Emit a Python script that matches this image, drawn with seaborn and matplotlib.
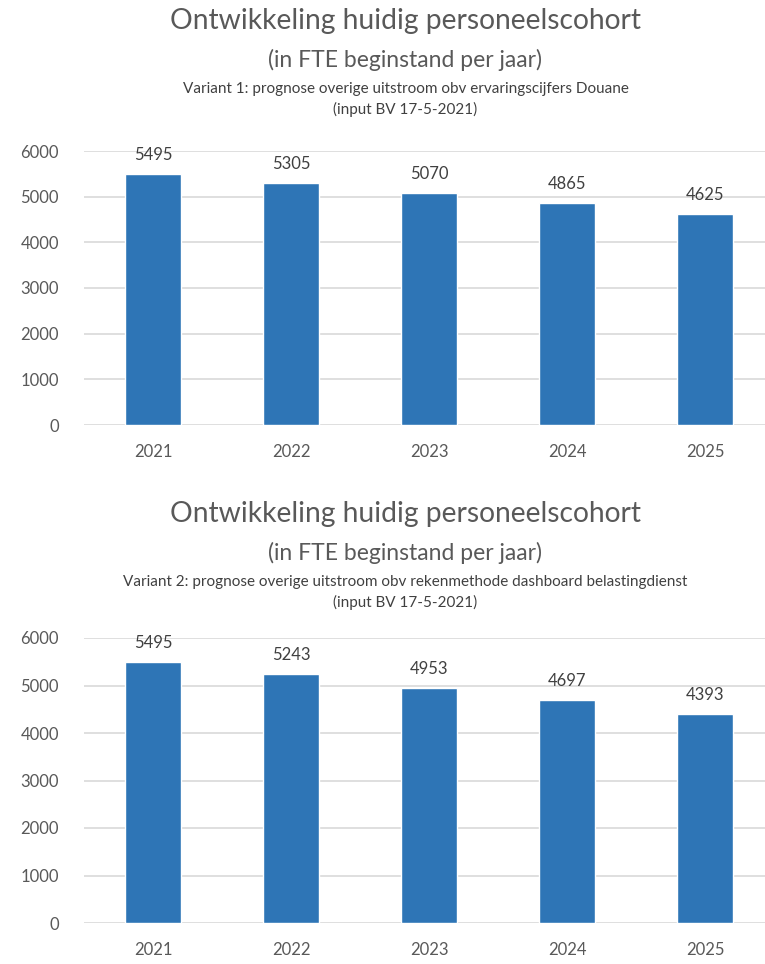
import matplotlib
matplotlib.use('Agg')
import matplotlib.pyplot as plt
import seaborn as sns
import pandas as pd

years = ['2021', '2022', '2023', '2024', '2025']
variant1 = [5495, 5305, 5070, 4865, 4625]
variant2 = [5495, 5243, 4953, 4697, 4393]

title = 'Ontwikkeling huidig personeelscohort'
subtitle = '(in FTE beginstand per jaar)'
note1 = 'Variant 1: prognose overige uitstroom obv ervaringscijfers Douane'
note2 = 'Variant 2: prognose overige uitstroom obv rekenmethode dashboard belastingdienst'
note_input = '(input BV 17-5-2021)'

sns.set_theme(style='white')
plt.rcParams['font.family'] = ['Lato', 'DejaVu Sans']

bar_color = '#2E75B6'
text_color = '#595959'
grid_color = '#D9D9D9'

fig = plt.figure(figsize=(7.65, 9.64), dpi=100)


def draw_panel(rect, values, note, y_title):
    ax = fig.add_axes(rect)
    df = pd.DataFrame({'jaar': years, 'fte': values})
    sns.barplot(data=df, x='jaar', y='fte', color=bar_color, width=0.406,
                saturation=1, ax=ax)
    ax.set_ylim(0, 6000)
    ax.set_xlim(-0.5, 4.435)
    ax.set_yticks(range(0, 6001, 1000))
    ax.yaxis.grid(True, color=grid_color, linewidth=1.2)
    ax.set_axisbelow(True)
    for s in ax.spines.values():
        s.set_visible(False)
    ax.set_xlabel('')
    ax.set_ylabel('')
    ax.tick_params(axis='y', labelsize=12, labelcolor=text_color, pad=18, length=0)
    ax.tick_params(axis='x', labelsize=12, labelcolor=text_color, pad=14, length=0)
    ax.bar_label(ax.containers[0], fmt='%d', padding=8, fontsize=12, color='#404040')

    # title block above each chart
    fig.text(0.53, y_title, title, ha='center', va='center', fontsize=20.3,
             color=text_color)
    fig.text(0.53, y_title - 0.040, subtitle, ha='center', va='center',
             fontsize=16.5, color=text_color)
    fig.text(0.53, y_title - 0.071, note, ha='center', va='center',
             fontsize=11, color='#404040')
    fig.text(0.53, y_title - 0.092, note_input, ha='center', va='center',
             fontsize=11, color='#404040')
    return ax


draw_panel([84 / 765, 1 - 425 / 964, 681 / 765, 274 / 964], variant1, note1, 1 - 21 / 964)
draw_panel([84 / 765, 1 - 923 / 964, 681 / 765, 285 / 964], variant2, note2, 1 - 514 / 964)

fig.savefig('out.png', dpi=100)
